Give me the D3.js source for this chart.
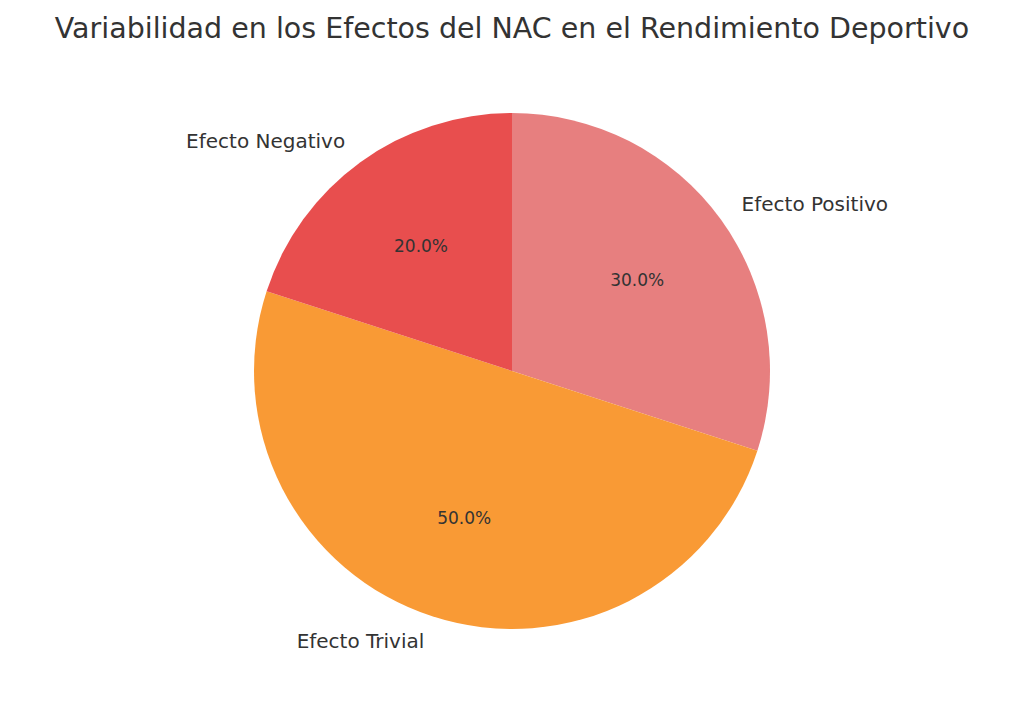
<!DOCTYPE html>
<html><head><meta charset="utf-8">
<script src="https://cdn.jsdelivr.net/npm/d3@7"></script>
<style>body{margin:0;background:#fff}text{font-family:"DejaVu Sans",sans-serif;fill:#333}</style>
</head><body><svg id="c" width="1024" height="708"></svg>
<script>
const categories = ["Efecto Positivo", "Efecto Trivial", "Efecto Negativo"];
const values = [30, 50, 20];
const colors = ["#e77f7f", "#f99a35", "#e84e4e"];
const title = "Variabilidad en los Efectos del NAC en el Rendimiento Deportivo";

const svg = d3.select("#c");
const cx = 512, cy = 371, r = 258;
svg.append("text").attr("x", 512).attr("y", 38).attr("text-anchor", "middle")
  .attr("font-size", 28.5).text(title);
const data = categories.map((c, i) => ({c, v: values[i], col: colors[i]}));
const pie = d3.pie().value(d => d.v).sort(null);
const arcs = pie(data);
const g = svg.append("g").attr("transform", `translate(${cx},${cy})`);
const arc = d3.arc().innerRadius(0).outerRadius(r);
g.selectAll("path").data(arcs).join("path").attr("d", arc).attr("fill", d => d.data.col);
const total = d3.sum(values);
arcs.forEach(a => {
  const m = (a.startAngle + a.endAngle) / 2;
  const sx = Math.sin(m), sy = -Math.cos(m);
  g.append("text").attr("x", 1.1 * r * sx).attr("y", 1.1 * r * sy).attr("dy", "0.35em")
    .attr("text-anchor", sx >= 0 ? "start" : "end").attr("font-size", 20).text(a.data.c);
  g.append("text").attr("x", 0.6 * r * sx).attr("y", 0.6 * r * sy).attr("dy", "0.35em")
    .attr("text-anchor", "middle").attr("font-size", 17)
    .text((a.data.v / total * 100).toFixed(1) + "%");
});
</script></body></html>
